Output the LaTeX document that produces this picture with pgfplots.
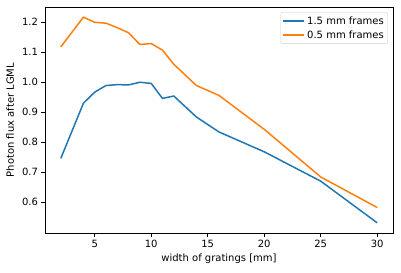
\documentclass[border=0pt]{standalone}
\usepackage{fontspec}
\setmainfont{DejaVu Sans}
\usepackage{pgfplots}
\pgfplotsset{compat=1.18}
\definecolor{c0}{HTML}{1F77B4}
\definecolor{c1}{HTML}{FF7F0E}
\begin{document}
\begin{tikzpicture}
\useasboundingbox (-45bp,-40bp) rectangle (356bp,233bp);
\begin{axis}[
  at={(0,0)}, anchor=south west,
  scale only axis, width=348bp, height=226bp,
  xmin=0.6, xmax=31.4, ymin=0.497, ymax=1.251,
  xtick={5,10,15,20,25,30},
  ytick={0.6,0.7,0.8,0.9,1.0,1.1,1.2},
  yticklabel style={/pgf/number format/.cd, fixed, fixed zerofill, precision=1},
  /pgf/number format/assume math mode=true,
  tick pos=left, tick align=outside,
  major tick length=3.5bp,
  tick style={black, line width=0.8bp},
  axis line style={line width=0.8bp},
  font=\fontsize{10bp}{12bp}\selectfont,
  xlabel={width of gratings [mm]},
  ylabel={Photon flux after LGML},
  xlabel style={at={(axis description cs:0.5,-0.115)}, anchor=center},
  ylabel style={at={(axis description cs:-0.1,0.5)}, anchor=center},
  legend style={at={(rel axis cs:0.9856,0.9765)}, anchor=north east,
    draw=black!20, rounded corners=2bp, fill=white, fill opacity=0.8, text opacity=1,
    font=\fontsize{10bp}{12bp}\selectfont, row sep=1bp, inner sep=2bp},
  legend cell align=left,
  legend image code/.code={\draw[#1] (0bp,0bp) -- (21bp,0bp);},
]
\addplot[c0, line width=1.5bp] coordinates {
(2,0.746) (4,0.930) (5,0.967) (6,0.989) (7,0.992) (8,0.991) (9,1.000) (10,0.996)
(11,0.946) (12,0.954) (14,0.884) (16,0.834) (20,0.768) (25,0.670) (30,0.531)};
\addlegendentry{1.5 mm frames}
\addplot[c1, line width=1.5bp] coordinates {
(2,1.118) (4,1.217) (5,1.200) (6,1.197) (7,1.182) (8,1.165) (9,1.126) (10,1.129)
(11,1.107) (12,1.060) (14,0.989) (16,0.956) (20,0.843) (25,0.684) (30,0.582)};
\addlegendentry{0.5 mm frames}
\end{axis}
\end{tikzpicture}
\end{document}
